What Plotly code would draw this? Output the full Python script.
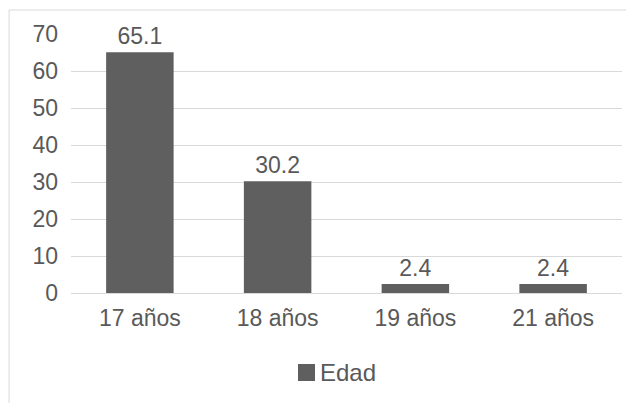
import plotly.graph_objects as go

categories = ["17 años", "18 años", "19 años", "21 años"]
values = [65.1, 30.2, 2.4, 2.4]
labels = ["65.1", "30.2", "2.4", "2.4"]
series_name = "Edad"
tick_vals = [0, 10, 20, 30, 40, 50, 60, 70]

# page body has an 8px margin, so the figure is drawn 8px smaller and offset
OFF = 8
W, H = 634 - OFF, 403 - OFF
L, R, T, B = 71 - OFF, 12, 34 - OFF, 110
pw, ph = W - L - R, H - T - B
FS = 23
TXT = "#595959"
BAR = "#5f5f5f"

fig = go.Figure()
fig.add_trace(go.Bar(
    x=categories, y=values, name=series_name,
    marker=dict(color=BAR, line=dict(width=0)),
    text=labels, textposition="outside", cliponaxis=False,
    textfont=dict(size=FS, color=TXT, family="Liberation Sans"),
    width=0.49, showlegend=False,
))

def px_x(x):
    return (x - OFF - L) / pw

def px_y(y):
    return (H - B - (y - OFF)) / ph

fig.update_layout(
    width=W, height=H,
    margin=dict(l=L, r=R, t=T, b=B),
    paper_bgcolor="white", plot_bgcolor="white",
    font=dict(family="Liberation Sans", size=FS, color=TXT),
    xaxis=dict(showgrid=False, showline=False, ticks="", ticklabelstandoff=9,
               tickfont=dict(size=FS, color=TXT)),
    yaxis=dict(range=[0, 70], tickvals=tick_vals, showgrid=True, gridcolor="#d9d9d9",
               gridwidth=1, zeroline=True, zerolinecolor="#d9d9d9", zerolinewidth=1,
               showline=False, ticks="", ticklabelstandoff=12,
               tickfont=dict(size=FS, color=TXT)),
    showlegend=False,
    annotations=[dict(
        xref="paper", yref="paper",
        x=px_x(318), xanchor="left",
        y=px_y(372), yanchor="middle",
        text=series_name,
        showarrow=False, font=dict(size=24, color=TXT, family="Liberation Sans"),
    )],
    shapes=[
        dict(type="rect", xref="paper", yref="paper",
             x0=px_x(8) + 0.002, x1=1.2, y0=-0.6, y1=px_y(10),
             line=dict(color="#d9d9d9", width=1), fillcolor="rgba(0,0,0,0)", layer="below"),
        dict(type="rect", xref="paper", yref="paper",
             x0=px_x(298), x1=px_x(315), y0=px_y(381), y1=px_y(364),
             line=dict(width=0), fillcolor=BAR),
    ],
)

fig.write_html("out.html")
